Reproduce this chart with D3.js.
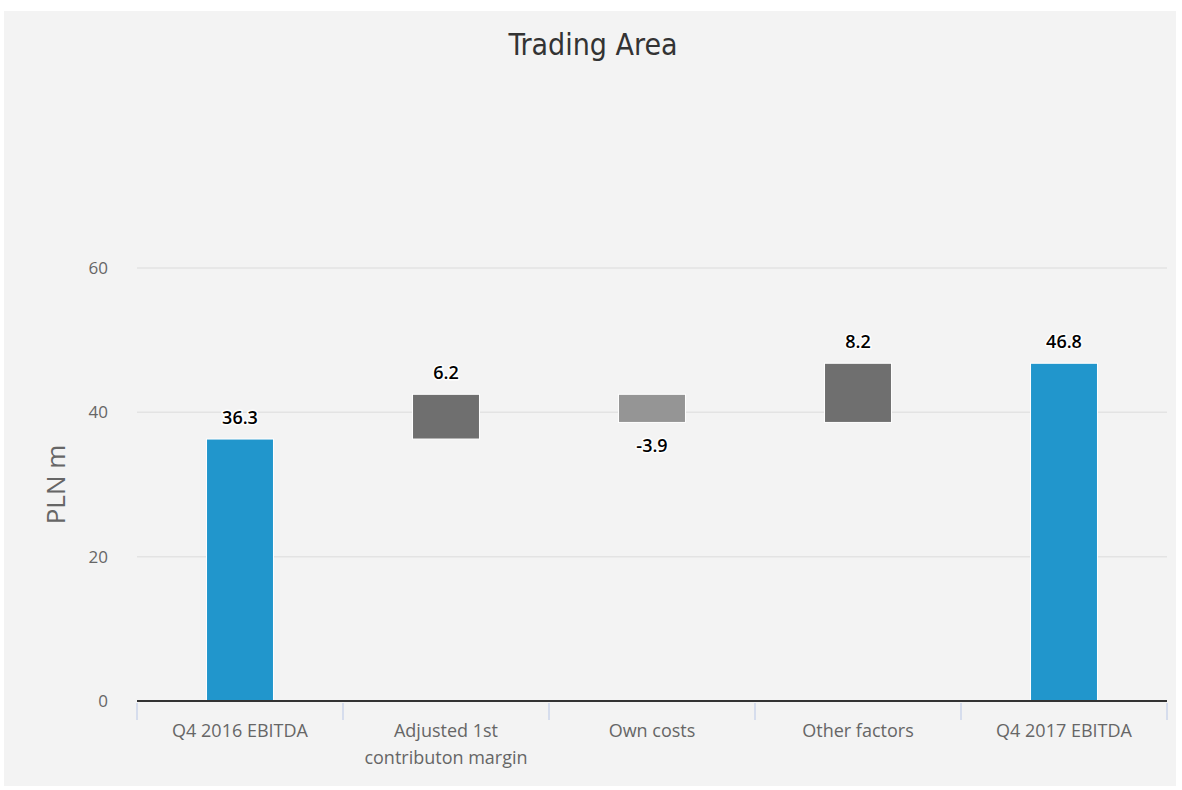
<!DOCTYPE html>
<html><head><meta charset="utf-8">
<script src="https://cdn.jsdelivr.net/npm/d3@7"></script>
<style>
html,body{margin:0;padding:0;background:#fff;}
svg{display:block;}
</style></head>
<body><svg id="c" width="1182" height="790"></svg>
<script>
const categories = ["Q4 2016 EBITDA", "Adjusted 1st\ncontributon margin", "Own costs", "Other factors", "Q4 2017 EBITDA"];
const values = [36.3, 6.2, -3.9, 8.2, 46.8];
const isTotal = [true, false, false, false, true];
const yTicks = [0, 20, 40, 60];
const title = "Trading Area";
const yTitle = "PLN m";

const svg = d3.select("#c");
const plot = {l:137, r:1167, t:268, b:701};

svg.append("rect").attr("x",4).attr("y",11).attr("width",1172).attr("height",775).attr("fill","#f3f3f3");

const x = d3.scaleBand().domain(categories).range([plot.l, plot.r]);
const y = d3.scaleLinear().domain([0,60]).range([plot.b, plot.t]);

// grid
svg.append("g").selectAll("line").data(yTicks.filter(d=>d>0)).join("line")
  .attr("x1",plot.l).attr("x2",plot.r)
  .attr("y1",d=>y(d)).attr("y2",d=>y(d))
  .attr("stroke","#e3e3e3").attr("stroke-width",1.5);

// y tick labels
svg.append("g").selectAll("text").data(yTicks).join("text")
  .attr("x",108).attr("y",d=>y(d)+6)
  .attr("text-anchor","end")
  .attr("font-family","'Open Sans', sans-serif").attr("font-size",17)
  .attr("fill","#666").text(d=>d);

// y title
svg.append("text")
  .attr("transform",`translate(65,${(plot.t+plot.b)/2}) rotate(-90)`)
  .attr("text-anchor","middle")
  .attr("font-family","'Open Sans', sans-serif").attr("font-size",26)
  .attr("fill","#666").text(yTitle);

// compute waterfall
let run = 0;
const bars = categories.map((c,i)=>{
  let lo, hi;
  if (isTotal[i]) { lo = 0; hi = values[i]; run = values[i]; }
  else { const s = run; run += values[i]; lo = Math.min(s, run); hi = Math.max(s, run); }
  return {c, v: values[i], lo, hi, total:isTotal[i]};
});

const bw = x.bandwidth()*0.325;
svg.append("g").selectAll("rect").data(bars).join("rect")
  .attr("x",d=>x(d.c)+x.bandwidth()/2-bw/2)
  .attr("width",bw)
  .attr("y",d=>y(d.hi))
  .attr("height",d=>y(d.lo)-y(d.hi))
  .attr("fill",d=>d.total ? "#2196cc" : (d.v<0 ? "#959595" : "#6f6f6f"))
  .attr("stroke","#fff").attr("stroke-width",1);

// x axis line
svg.append("line").attr("x1",plot.l).attr("x2",plot.r).attr("y1",plot.b).attr("y2",plot.b)
  .attr("stroke","#333").attr("stroke-width",2);
// x ticks
const bounds = categories.map(c=>x(c)).concat([plot.r]);
svg.append("g").selectAll("line").data(bounds).join("line")
  .attr("x1",d=>d).attr("x2",d=>d).attr("y1",plot.b+2).attr("y2",plot.b+19)
  .attr("stroke","#ccd6eb").attr("stroke-width",1.5);

// x labels
const xl = svg.append("g").selectAll("text").data(categories).join("text")
  .attr("x",d=>x(d)+x.bandwidth()/2).attr("y",737)
  .attr("text-anchor","middle")
  .attr("font-family","'Open Sans', sans-serif").attr("font-size",18)
  .attr("fill","#666");
xl.each(function(d){
  const lines = d.split("\n");
  d3.select(this).selectAll("tspan").data(lines).join("tspan")
    .attr("x",x(d)+x.bandwidth()/2).attr("dy",(l,i)=>i?27:0).text(l=>l);
});

// data labels
svg.append("g").selectAll("text").data(bars).join("text")
  .attr("x",d=>x(d.c)+x.bandwidth()/2)
  .attr("y",d=> d.v<0 ? y(d.lo)+30 : y(d.hi)-15)
  .attr("text-anchor","middle")
  .attr("font-family","'Open Sans', sans-serif").attr("font-size",18).attr("font-weight",600)
  .attr("fill","#000")
  .attr("stroke","#fff").attr("stroke-width",3).attr("paint-order","stroke").attr("stroke-linejoin","round")
  .text(d=>d.v.toFixed(1));

// title
svg.append("text").attr("x",593).attr("y",55).attr("text-anchor","middle")
  .attr("font-family","'DejaVu Sans Condensed','Liberation Sans Narrow', sans-serif").attr("font-size",30)
  .attr("fill","#333").text(title);
</script></body></html>
